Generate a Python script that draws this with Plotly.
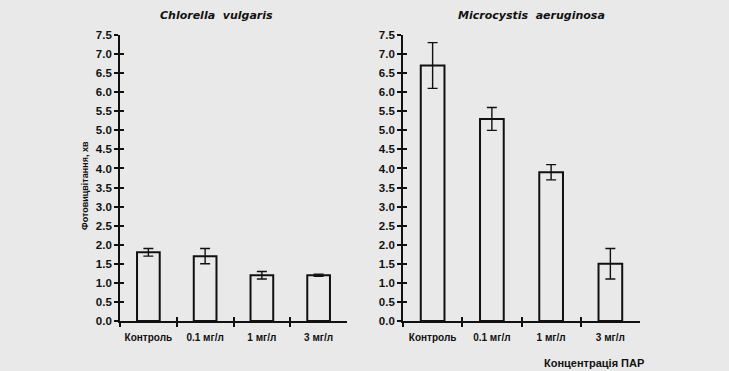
import plotly.graph_objects as go

categories = ["Контроль", "0.1 мг/л", "1 мг/л", "3 мг/л"]
chlorella_values = [1.8, 1.7, 1.2, 1.2]
chlorella_err = [0.1, 0.2, 0.1, 0.03]
microcystis_values = [6.7, 5.3, 3.9, 1.5]
microcystis_err = [0.6, 0.3, 0.2, 0.4]
y_ticks = [0.0, 0.5, 1.0, 1.5, 2.0, 2.5, 3.0, 3.5, 4.0, 4.5, 5.0, 5.5, 6.0, 6.5, 7.0, 7.5]

W, H = 729, 371
bg = "#e9e9e9"
font_fam = "Liberation Sans, Arial, sans-serif"
title_fam = "DejaVu Sans, sans-serif"

fig = go.Figure()

def add_bars(vals, errs, xa, ya):
    fig.add_trace(go.Bar(
        x=categories, y=vals, xaxis=xa, yaxis=ya, width=0.4,
        marker=dict(color="rgba(0,0,0,0)", line=dict(color="#111", width=2)),
        error_y=dict(type="data", array=errs, visible=True, color="#111", thickness=1.4, width=5),
        showlegend=False, hoverinfo="skip",
    ))

add_bars(chlorella_values, chlorella_err, "x", "y")
add_bars(microcystis_values, microcystis_err, "x2", "y2")

ybot = 50 / H
ytop = 336 / H
dom1 = [120 / W, 347 / W]
dom2 = [403 / W, 640 / W]

xcommon = dict(type="category", showline=True, linecolor="#111", linewidth=1.8, automargin=False,
               ticks="outside", tickson="boundaries", ticklen=4, tickwidth=1.5, tickcolor="#111",
               tickangle=0, ticklabelstandoff=6,
               tickfont=dict(family=font_fam, size=10, color="#111", weight="bold"),
               showgrid=False, zeroline=False, fixedrange=True)
ycommon = dict(range=[0, 7.5], tickvals=y_ticks, tickformat=".1f", showline=True, linecolor="#111",
               linewidth=1.8, ticks="outside", ticklen=4, tickwidth=1.5, tickcolor="#111",
               automargin=False,
               tickfont=dict(family=font_fam, size=11.5, color="#111", weight="bold"),
               showgrid=False, zeroline=False, domain=[ybot, ytop])

ov = dict(showticklabels=False, ticks="inside", ticklen=4, tickwidth=1.5, tickcolor="#111",
          showgrid=False, zeroline=False, showline=False, automargin=False)

fig.update_layout(
    width=W, height=H, margin=dict(l=0, r=0, t=0, b=0, autoexpand=False),
    paper_bgcolor=bg, plot_bgcolor=bg, bargap=0.6,
    xaxis=dict(domain=dom1, anchor="y", **xcommon),
    yaxis=dict(anchor="x", **ycommon),
    xaxis2=dict(domain=dom2, anchor="y2", **xcommon),
    yaxis2=dict(anchor="x2", **ycommon),
    yaxis3=dict(overlaying="y", anchor="x", range=[0, 7.5], tickvals=y_ticks, domain=[ybot, ytop], **ov),
    yaxis4=dict(overlaying="y2", anchor="x2", range=[0, 7.5], tickvals=y_ticks, domain=[ybot, ytop], **ov),
    xaxis3=dict(overlaying="x", anchor="y", type="category", tickson="boundaries", domain=dom1, **ov),
    xaxis4=dict(overlaying="x2", anchor="y2", type="category", tickson="boundaries", domain=dom2, **ov),
)

fig.add_trace(go.Bar(x=categories, y=[0, 0, 0, 0], xaxis="x3", yaxis="y3", showlegend=False,
                     hoverinfo="skip", marker=dict(color="rgba(0,0,0,0)", line=dict(width=0))))
fig.add_trace(go.Bar(x=categories, y=[0, 0, 0, 0], xaxis="x4", yaxis="y4", showlegend=False,
                     hoverinfo="skip", marker=dict(color="rgba(0,0,0,0)", line=dict(width=0))))

fig.add_annotation(text="<b><i>Chlorella  vulgaris</i></b>", x=216 / W, y=1 - 15 / H, xref="paper",
                   yref="paper", xanchor="center", yanchor="middle", showarrow=False,
                   font=dict(family=title_fam, size=11, color="#111"))
fig.add_annotation(text="<b><i>Microcystis  aeruginosa</i></b>", x=531 / W, y=1 - 16 / H, xref="paper",
                   yref="paper", xanchor="center", yanchor="middle", showarrow=False,
                   font=dict(family=title_fam, size=11, color="#111"))
fig.add_annotation(text="<b>Фотовицвітання, хв</b>", x=85 / W, y=1 - 186 / H, xref="paper",
                   yref="paper", xanchor="center", yanchor="middle", showarrow=False, textangle=-90,
                   font=dict(family=font_fam, size=9, color="#111"))
fig.add_annotation(text="<b>Концентрація ПАР</b>", x=594 / W, y=1 - 363 / H, xref="paper",
                   yref="paper", xanchor="center", yanchor="middle", showarrow=False,
                   font=dict(family=font_fam, size=11, color="#111"))

fig.write_html("out.html", config={"displayModeBar": False},
               post_script="document.body.style.margin='0';document.body.style.overflow='hidden';")
